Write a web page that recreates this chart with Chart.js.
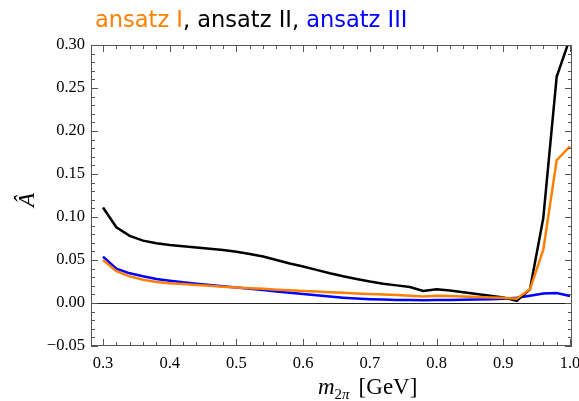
<!DOCTYPE html>
<html lang="en">
<head>
    <title>ansatz</title>
    <script src="https://cdn.jsdelivr.net/npm/chart.js"></script>
    <style>
        body { margin: 0; background: #fff; }
    </style>
</head>
<body>

<canvas id="chart" width="579" height="401"></canvas>

<script>
    // m_2pi in GeV
    var masses = [0.30, 0.32, 0.34, 0.36, 0.38, 0.40, 0.42, 0.44, 0.46, 0.48,
                  0.50, 0.52, 0.54, 0.56, 0.58, 0.60, 0.62, 0.64, 0.66, 0.68,
                  0.70, 0.72, 0.74, 0.76, 0.78, 0.80, 0.82, 0.84, 0.86, 0.88,
                  0.90, 0.92, 0.94, 0.96, 0.98, 1.00];

    var ansatzI = [0.050, 0.037, 0.031, 0.027, 0.0245, 0.023, 0.022, 0.021, 0.020, 0.019,
                   0.018, 0.0172, 0.0165, 0.0155, 0.0148, 0.014, 0.0133, 0.0125, 0.0118, 0.011,
                   0.0105, 0.0098, 0.0092, 0.0085, 0.0075, 0.0085, 0.008, 0.0075, 0.007, 0.0065,
                   0.006, 0.005, 0.016, 0.062, 0.166, 0.182];

    var ansatzII = [0.111, 0.088, 0.078, 0.0725, 0.0695, 0.0675, 0.066, 0.0645, 0.063, 0.0615,
                    0.0595, 0.057, 0.054, 0.050, 0.046, 0.0425, 0.0385, 0.0345, 0.031, 0.028,
                    0.025, 0.0225, 0.0205, 0.0185, 0.014, 0.016, 0.0145, 0.0125, 0.0105, 0.0085,
                    0.0065, 0.0025, 0.016, 0.099, 0.263, 0.308];

    var ansatzIII = [0.054, 0.040, 0.0345, 0.031, 0.028, 0.026, 0.024, 0.0225, 0.021, 0.0195,
                     0.018, 0.0165, 0.015, 0.0135, 0.012, 0.0105, 0.009, 0.0075, 0.0062, 0.0052,
                     0.0045, 0.004, 0.0036, 0.0034, 0.0033, 0.0034, 0.0035, 0.0037, 0.004, 0.0045,
                     0.005, 0.0062, 0.0085, 0.011, 0.0115, 0.0082];

    var xTicks = [0.3, 0.4, 0.5, 0.6, 0.7, 0.8, 0.9, 1.0];
    var xTickLabels = ["0.3", "0.4", "0.5", "0.6", "0.7", "0.8", "0.9", "1.0"];
    var yTicks = [-0.05, 0, 0.05, 0.10, 0.15, 0.20, 0.25, 0.30];
    var yTickLabels = ["\u22120.05", "0.00", "0.05", "0.10", "0.15", "0.20", "0.25", "0.30"];

    var orange = "rgb(255,128,0)";
    var blue = "rgb(0,0,255)";
    var serif = "'Liberation Serif', 'DejaVu Serif', serif";

    function toPoints(ys) {
        return masses.map(function (m, i) { return { x: m, y: ys[i] }; });
    }

    // frame, inward ticks, zero line and titles
    var decorations = {
        id: "decorations",
        beforeDatasetsDraw: function (chart) {
            var ctx = chart.ctx;
            var a = chart.chartArea;
            var ys = chart.scales.y;
            ctx.save();
            // zero line
            ctx.strokeStyle = "#222";
            ctx.lineWidth = 1;
            ctx.beginPath();
            var y0 = Math.round(ys.getPixelForValue(0)) + 0.5;
            ctx.moveTo(a.left, y0);
            ctx.lineTo(a.right, y0);
            ctx.stroke();
            ctx.restore();
        },
        afterDraw: function (chart) {
            var ctx = chart.ctx;
            var a = chart.chartArea;
            var xs = chart.scales.x;
            var ys = chart.scales.y;
            ctx.save();
            ctx.strokeStyle = "#555";
            ctx.lineWidth = 1;
            ctx.strokeRect(a.left + 0.5, a.top + 0.5, a.right - a.left - 1, a.bottom - a.top - 1);

            ctx.beginPath();
            for (var i = 14; i <= 50; i++) {
                var v = i * 0.02;
                var px = Math.round(xs.getPixelForValue(v)) + 0.5;
                if (px < a.left || px > a.right) continue;
                var len = (i % 5 === 0) ? 7 : 4;
                ctx.moveTo(px, a.bottom);
                ctx.lineTo(px, a.bottom - len);
                ctx.moveTo(px, a.top);
                ctx.lineTo(px, a.top + len);
            }
            for (var j = -5; j <= 30; j++) {
                var py = Math.round(ys.getPixelForValue(j * 0.01)) + 0.5;
                var l = (j % 5 === 0) ? 7 : 4;
                ctx.moveTo(a.left, py);
                ctx.lineTo(a.left + l, py);
                ctx.moveTo(a.right, py);
                ctx.lineTo(a.right - l, py);
            }
            ctx.stroke();

            // title in three colours
            ctx.font = "22.5px 'DejaVu Sans', sans-serif";
            ctx.textBaseline = "alphabetic";
            ctx.textAlign = "left";
            var parts = [["ansatz I", orange], [", ", "#000"], ["ansatz II", "#000"], [", ", "#000"], ["ansatz III", blue]];
            var tx = 95;
            parts.forEach(function (p) {
                ctx.fillStyle = p[1];
                ctx.fillText(p[0], tx, 27);
                tx += ctx.measureText(p[0]).width;
            });

            // x axis title
            ctx.fillStyle = "#000";
            var bx = 318, by = 394;
            ctx.font = "italic 23px " + serif;
            ctx.fillText("m", bx, by);
            bx += ctx.measureText("m").width;
            ctx.font = "15px " + serif;
            ctx.fillText("2", bx, by + 5);
            bx += ctx.measureText("2").width;
            ctx.font = "italic 15px " + serif;
            ctx.fillText("\u03c0", bx, by + 5);
            bx += ctx.measureText("\u03c0").width + 9;
            ctx.font = "23px " + serif;
            ctx.fillText("[GeV]", bx, by);

            // y axis title
            ctx.translate(28, 200);
            ctx.rotate(-Math.PI / 2);
            ctx.font = "italic 23px " + serif;
            ctx.textAlign = "center";
            ctx.textBaseline = "middle";
            ctx.fillText("\u00c2", 0, 0);
            ctx.restore();
        }
    };

    var ctx = document.getElementById("chart").getContext("2d");
    var myChart = new Chart(ctx, {
        type: "line",
        data: {
            datasets: [
                { label: "ansatz I", data: toPoints(ansatzI), borderColor: orange, borderWidth: 2.5, pointRadius: 0, fill: false, tension: 0 },
                { label: "ansatz II", data: toPoints(ansatzII), borderColor: "#000", borderWidth: 2.5, pointRadius: 0, fill: false, tension: 0 },
                { label: "ansatz III", data: toPoints(ansatzIII), borderColor: blue, borderWidth: 2.5, pointRadius: 0, fill: false, tension: 0 }
            ]
        },
        options: {
            responsive: false,
            animation: false,
            devicePixelRatio: 1,
            layout: { padding: { top: 45, right: 7, left: 0, bottom: 0 } },
            plugins: {
                legend: { display: false },
                tooltip: { enabled: false }
            },
            scales: {
                x: {
                    type: "linear",
                    min: 0.282,
                    max: 1.003,
                    grid: { display: false, drawTicks: false, tickLength: 0 },
                    border: { display: false },
                    afterBuildTicks: function (axis) {
                        axis.ticks = xTicks.map(function (v) { return { value: v }; });
                    },
                    afterFit: function (axis) {
                        axis.height = 55;
                        axis.paddingLeft = 0;
                        axis.paddingRight = 0;
                    },
                    ticks: {
                        autoSkip: false,
                        maxRotation: 0,
                        padding: 8,
                        color: "#000",
                        font: { family: serif, size: 16.5 },
                        callback: function (v, i) { return xTickLabels[i]; }
                    }
                },
                y: {
                    min: -0.05,
                    max: 0.30,
                    grid: { display: false, drawTicks: false, tickLength: 0 },
                    border: { display: false },
                    afterBuildTicks: function (axis) {
                        axis.ticks = yTicks.map(function (v) { return { value: v }; });
                    },
                    afterFit: function (axis) {
                        axis.width = 91;
                        axis.paddingTop = 0;
                        axis.paddingBottom = 0;
                    },
                    ticks: {
                        autoSkip: false,
                        padding: 6,
                        color: "#000",
                        font: { family: serif, size: 16.5 },
                        callback: function (v, i) { return yTickLabels[i]; }
                    }
                }
            }
        },
        plugins: [decorations]
    });
</script>
</body>
</html>
